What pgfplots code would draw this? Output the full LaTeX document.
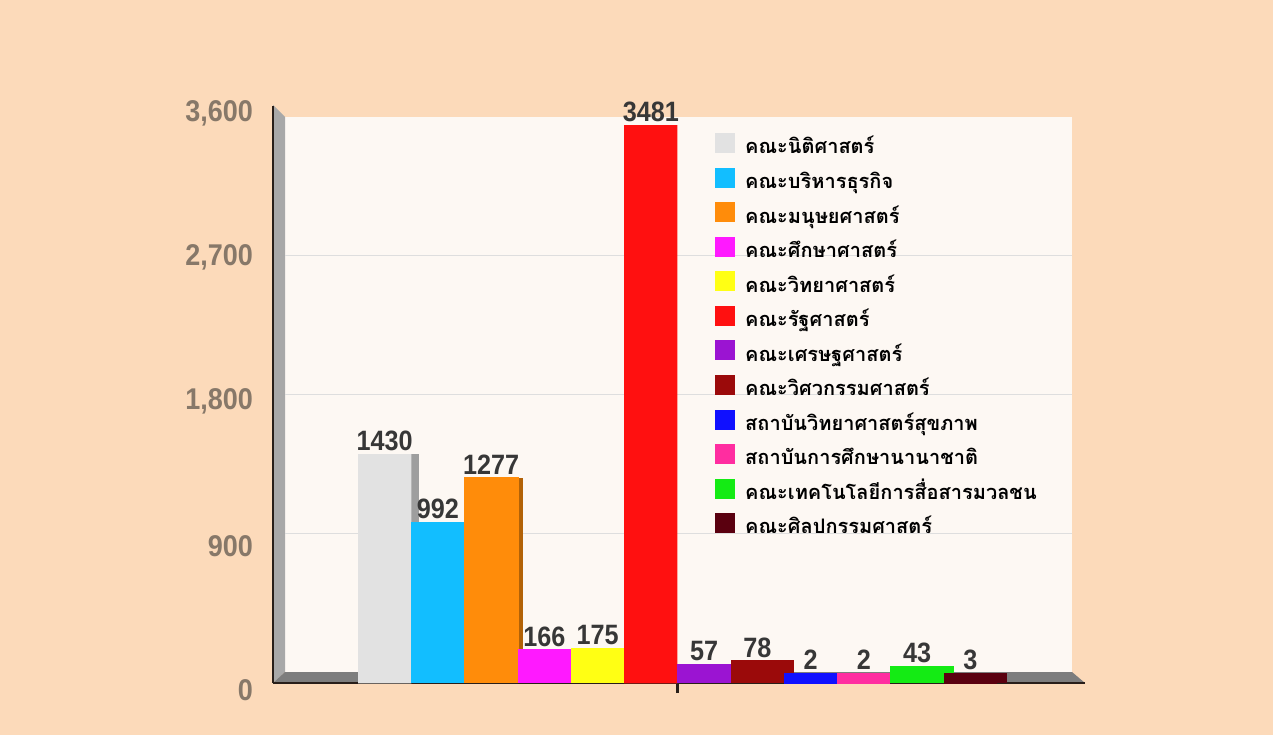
\documentclass[border=0pt]{standalone}
\usepackage{fontspec}
\setmainfont{Liberation Sans}
\newfontfamily\thaifont[Script=Thai]{Loma}
\newfontfamily\narrowfont[FakeStretch=0.9]{Liberation Sans}
\usepackage{pgfplots}
\pgfplotsset{compat=1.18}

\definecolor{bgpeach}{RGB}{252,218,186}
\definecolor{wall}{RGB}{253,248,243}
\definecolor{sidegray}{RGB}{168,168,168}
\definecolor{floorgray}{RGB}{125,125,125}
\definecolor{axisdark}{RGB}{40,30,25}
\definecolor{ticktext}{RGB}{135,120,105}
\definecolor{valtext}{RGB}{55,55,55}
\definecolor{c1}{RGB}{226,226,226}
\definecolor{c2}{RGB}{18,190,255}
\definecolor{c3}{RGB}{255,140,10}
\definecolor{c4}{RGB}{255,25,255}
\definecolor{c5}{RGB}{255,255,20}
\definecolor{c6}{RGB}{255,16,16}
\definecolor{c7}{RGB}{155,20,210}
\definecolor{c8}{RGB}{155,10,10}
\definecolor{c9}{RGB}{16,16,255}
\definecolor{c10}{RGB}{255,45,160}
\definecolor{c11}{RGB}{20,235,20}
\definecolor{c12}{RGB}{90,0,15}

% fake 3D: #1 colour, #2 side shift, #3 top face height, #4 direction of the top face (1 or -1)
\pgfplotsset{
  bar3d/.style n args={4}{
    fill=#1, draw=none, forget plot,
    preaction={fill=#1!70!black, transform canvas={xshift=#2}},
    preaction={fill=#1, draw=#1, line width=#3, line join=miter,
        transform canvas={shift={({#4*#3/2},{#3/2})}}},
    every node near coord/.append style={yshift=#3},
  },
}

\begin{document}
\begin{tikzpicture}
% background, back wall and floor (pixel grid, 1px = 0.75pt)
\begin{scope}[x=0.75pt,y=0.75pt]
\fill[bgpeach] (0,0) rectangle (1273,735);
\fill[wall] (285,63) rectangle (1072,618);
\fill[sidegray] (273,52) -- (273,630) -- (285,618) -- (285,63) -- cycle;
\fill[floorgray] (273,52) -- (1085,52) -- (1072,63) -- (285,63) -- cycle;
\end{scope}
% grid on the back wall
\begin{axis}[
    at={(213.75pt,47.25pt)}, anchor=south west,
    scale only axis, width=590.25pt, height=416.25pt,
    xmin=0, xmax=1, ymin=0, ymax=3600,
    xtick=\empty, ytick={900,1800,2700}, yticklabels={},
    axis line style={draw=none}, tick style={draw=none},
    ymajorgrids, grid style={color=black!13, line width=0.75pt},
]
\addplot[draw=none] coordinates {(0,0)};
\end{axis}
\begin{axis}[
    at={(204.75pt,39pt)}, anchor=south west,
    scale only axis, width=609pt, height=432.75pt,
    xmin=0, xmax=15.25, ymin=0, ymax=3600,
    clip=false,
    ybar, bar width=1, /pgf/bar shift=0pt,
    legend image code/.code={\fill[#1] (0pt,-3.5pt) rectangle (15pt,11.5pt);},
    axis x line*=bottom, axis y line*=left,
    axis line style={axisdark, line width=1.9pt},
    xtick={7.6}, xticklabels={},
    tick align=outside, major tick length=7.5pt,
    xtick style={axisdark, line width=2pt},
    ytick={0,900,1800,2700,3600},
    ytick style={draw=none},
    yticklabel style={font=\narrowfont\bfseries\fontsize{22.5}{22.5}\selectfont,
        text=ticktext, xshift=-4pt, yshift=-5.5pt},
    /pgf/number format/assume math mode=true,
    nodes near coords={\pgfmathprintnumber[1000 sep={}]{\pgfplotspointmeta}},
    nodes near coords style={font=\narrowfont\bfseries\fontsize{21}{21}\selectfont,
        text=valtext, inner sep=2pt},
    legend cell align=left,
    legend style={at={(0.5443,0.9532)}, anchor=north west, draw=none, fill=none,
        inner sep=0pt, row sep=6.9pt, column sep=7.5pt,
        nodes={inner sep=0pt, text height=11.5pt, text depth=3.5pt,
            font=\thaifont\bfseries\fontsize{15}{15}\selectfont}},
]
\addlegendimage{fill=c1, draw=none}\addlegendentry{คณะนิติศาสตร์}
\addlegendimage{fill=c2, draw=none}\addlegendentry{คณะบริหารธุรกิจ}
\addlegendimage{fill=c3, draw=none}\addlegendentry{คณะมนุษยศาสตร์}
\addlegendimage{fill=c4, draw=none}\addlegendentry{คณะศึกษาศาสตร์}
\addlegendimage{fill=c5, draw=none}\addlegendentry{คณะวิทยาศาสตร์}
\addlegendimage{fill=c6, draw=none}\addlegendentry{คณะรัฐศาสตร์}
\addlegendimage{fill=c7, draw=none}\addlegendentry{คณะเศรษฐศาสตร์}
\addlegendimage{fill=c8, draw=none}\addlegendentry{คณะวิศวกรรมศาสตร์}
\addlegendimage{fill=c9, draw=none}\addlegendentry{สถาบันวิทยาศาสตร์สุขภาพ}
\addlegendimage{fill=c10, draw=none}\addlegendentry{สถาบันการศึกษานานาชาติ}
\addlegendimage{fill=c11, draw=none}\addlegendentry{คณะเทคโนโลยีการสื่อสารมวลชน}
\addlegendimage{fill=c12, draw=none}\addlegendentry{คณะศิลปกรรมศาสตร์}

\addplot[bar3d={c1}{6pt}{0.01pt}{1}] coordinates {(2.096,1430)};
\addplot[bar3d={c2}{0pt}{1.5pt}{1}] coordinates {(3.096,992)};
\addplot[bar3d={c3}{4pt}{0.75pt}{1}] coordinates {(4.096,1277)};
\addplot[bar3d={c4}{0pt}{5.25pt}{1}] coordinates {(5.096,166)};
\addplot[bar3d={c5}{0pt}{5.25pt}{1}] coordinates {(6.096,175)};
\addplot[bar3d={c6}{0pt}{0.01pt}{1}] coordinates {(7.096,3481)};
\addplot[bar3d={c7}{0pt}{7.5pt}{1}] coordinates {(8.096,57)};
\addplot[bar3d={c8}{0pt}{7.5pt}{1}] coordinates {(9.096,78)};
\addplot[bar3d={c9}{0pt}{7.5pt}{1}] coordinates {(10.096,2)};
\addplot[bar3d={c10}{0pt}{7.5pt}{1}] coordinates {(11.096,2)};
\addplot[bar3d={c11}{0pt}{7.5pt}{1}] coordinates {(12.096,43)};
\addplot[bar3d={c12}{0pt}{7.5pt}{1}] coordinates {(13.096,3)};
\end{axis}
\end{tikzpicture}
\end{document}
